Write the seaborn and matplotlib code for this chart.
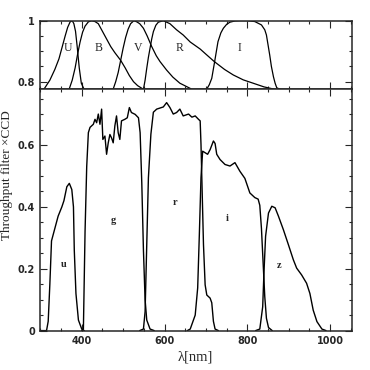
import pandas as pd
import seaborn as sns
import matplotlib.pyplot as plt
from matplotlib.ticker import MultipleLocator

# Johnson-Cousins UBVRI, normalised to peak (top panel)
U_nm = [300, 311, 323, 335, 345, 353, 360, 366, 372, 377, 381, 385, 389, 394, 399, 405, 412]
U_val = [0.76, 0.78, 0.805, 0.84, 0.875, 0.915, 0.95, 0.978, 0.996, 1.0, 0.99, 0.965, 0.915, 0.845, 0.795, 0.777, 0.76]

B_nm = [364, 370, 377, 384, 390, 396, 402, 408, 416, 424, 432, 440, 450, 460, 470, 480, 494, 505, 515, 525, 535, 549, 560]
B_val = [0.76, 0.777, 0.805, 0.845, 0.89, 0.93, 0.962, 0.982, 0.996, 1.0, 0.997, 0.99, 0.965, 0.94, 0.915, 0.895, 0.87, 0.845, 0.82, 0.80, 0.787, 0.775, 0.76]

V_nm = [470, 476, 482, 488, 494, 500, 506, 512, 518, 526, 533, 540, 549, 558, 569, 580, 589, 605, 620, 637, 662, 675]
V_val = [0.76, 0.776, 0.80, 0.83, 0.87, 0.91, 0.945, 0.972, 0.99, 1.0, 0.996, 0.99, 0.975, 0.95, 0.915, 0.885, 0.866, 0.838, 0.815, 0.795, 0.778, 0.76]

R_nm = [543, 549, 553, 557, 561, 565, 569, 573, 579, 585, 597, 613, 629, 645, 662, 686, 700, 720, 745, 766, 790, 814, 840, 863, 880]
R_val = [0.76, 0.775, 0.805, 0.844, 0.88, 0.91, 0.94, 0.964, 0.985, 0.995, 1.0, 0.99, 0.97, 0.953, 0.93, 0.907, 0.89, 0.866, 0.84, 0.822, 0.806, 0.795, 0.783, 0.776, 0.765]

I_nm = [695, 702, 708, 714, 721, 729, 736, 742, 750, 758, 770, 782, 800, 818, 834, 842, 846, 850, 854, 858, 863, 867, 871, 879, 890]
I_val = [0.76, 0.776, 0.79, 0.811, 0.866, 0.931, 0.96, 0.975, 0.988, 0.995, 0.999, 1.0, 1.0, 0.997, 0.986, 0.97, 0.953, 0.92, 0.887, 0.85, 0.816, 0.795, 0.78, 0.775, 0.76]

# SDSS ugriz, filter x CCD throughput (main panel)
u_nm = [300, 315, 319, 323, 327, 331, 335, 343, 352, 357, 364, 370, 376, 380, 382, 386, 392, 400, 406]
u_val = [0.0, 0.0, 0.03, 0.15, 0.29, 0.31, 0.33, 0.37, 0.40, 0.42, 0.465, 0.476, 0.456, 0.40, 0.26, 0.12, 0.034, 0.005, 0.0]

g_nm = [400, 404, 408, 412, 416, 420, 428, 432, 436, 440, 444, 448, 451, 456, 460, 464, 468, 472, 476, 480, 484, 488,
        492, 496, 504, 510, 515, 520, 529, 537, 541, 545, 549, 553, 557, 565, 575]
g_val = [0.0, 0.005, 0.32, 0.53, 0.64, 0.657, 0.667, 0.683, 0.672, 0.70, 0.667, 0.716, 0.618, 0.629, 0.57, 0.607, 0.634,
         0.623, 0.607, 0.662, 0.694, 0.64, 0.618, 0.678, 0.683, 0.688, 0.721, 0.705, 0.699, 0.688, 0.64, 0.478, 0.26,
         0.10, 0.034, 0.005, 0.0]

r_nm = [540, 549, 553, 557, 561, 567, 573, 581, 597, 605, 613, 621, 629, 637, 645, 658, 666, 674, 682, 686, 688, 691,
        694, 698, 702, 710, 714, 718, 722, 730]
r_val = [0.0, 0.005, 0.061, 0.278, 0.494, 0.635, 0.706, 0.716, 0.723, 0.737, 0.721, 0.70, 0.705, 0.716, 0.694, 0.70,
         0.69, 0.694, 0.683, 0.678, 0.602, 0.44, 0.278, 0.148, 0.115, 0.105, 0.09, 0.03, 0.005, 0.0]

i_nm = [655, 662, 674, 680, 684, 688, 692, 698, 704, 710, 718, 722, 726, 734, 746, 758, 770, 782, 794, 806, 818, 826,
        830, 834, 838, 842, 846, 851, 860]
i_val = [0.0, 0.005, 0.05, 0.138, 0.31, 0.495, 0.58, 0.575, 0.57, 0.585, 0.613, 0.605, 0.57, 0.553, 0.537, 0.532,
         0.543, 0.515, 0.492, 0.445, 0.43, 0.425, 0.405, 0.33, 0.22, 0.11, 0.04, 0.01, 0.0]

z_nm = [820, 830, 837, 840, 844, 851, 859, 867, 875, 887, 899, 911, 919, 931, 943, 951, 959, 968, 980, 990]
z_val = [0.0, 0.005, 0.077, 0.186, 0.305, 0.38, 0.402, 0.397, 0.37, 0.326, 0.278, 0.229, 0.202, 0.18, 0.153, 0.12,
         0.066, 0.029, 0.005, 0.0]

top_names = ["U", "B", "V", "R", "I"]
top_pos = [367, 440, 536, 637, 782]
main_names = ["u", "g", "r", "i", "z"]
main_pos = [(357, 0.213), (476, 0.357), (625, 0.413), (752, 0.362), (877, 0.209)]

sns.set_style("ticks")
plt.rcParams['font.family'] = ['Liberation Serif', 'DejaVu Serif']

fig = plt.figure(figsize=(3.7, 3.7), dpi=100)
ax_top = fig.add_axes([0.109, 0.7586, 0.8416, 0.1856])
ax = fig.add_axes([0.109, 0.1065, 0.8416, 0.6521])

for x, y in [(U_nm, U_val), (B_nm, B_val), (V_nm, V_val), (R_nm, R_val), (I_nm, I_val)]:
    sns.lineplot(x=x, y=y, ax=ax_top, color="black", lw=0.9, estimator=None)
for x, y in [(u_nm, u_val), (g_nm, g_val), (r_nm, r_val), (i_nm, i_val), (z_nm, z_val)]:
    sns.lineplot(x=x, y=y, ax=ax, color="black", lw=1.0, estimator=None)

for a in (ax_top, ax):
    a.set_xlim(300, 1052)
    a.xaxis.set_minor_locator(MultipleLocator(50))
    a.yaxis.set_minor_locator(MultipleLocator(0.05))
    a.tick_params(which="both", direction="in", top=True, right=True, width=0.8, pad=4)
    a.tick_params(which="major", length=5)
    a.tick_params(which="minor", length=2.5)
    for s in a.spines.values():
        s.set_linewidth(1.1)
    a.set_xlabel("")
    a.set_ylabel("")

ax_top.set_ylim(0.775, 1.0)
ax_top.set_xticks([400, 600, 800, 1000])
ax_top.set_xticklabels([])
ax_top.set_yticks([0.8, 1.0])
ax_top.set_yticklabels(["0.8", "1"], fontfamily="DejaVu Sans", fontweight="bold", fontsize=7)

ax.set_ylim(0, 0.78)
ax.set_xticks([400, 600, 800, 1000])
ax.set_xticklabels(["400", "600", "800", "1000"], fontfamily="DejaVu Sans", fontweight="bold", fontsize=7)
ax.set_yticks([0, 0.2, 0.4, 0.6])
ax.set_yticklabels(["0", "0.2", "0.4", "0.6"], fontfamily="DejaVu Sans", fontweight="bold", fontsize=7)

for name, xpos in zip(top_names, top_pos):
    ax_top.text(xpos, 0.91, name, ha="center", va="center", fontsize=8.5)
for name, (xpos, ypos) in zip(main_names, main_pos):
    ax.text(xpos, ypos, name, ha="center", va="center", fontsize=7.5, fontweight="bold")

fig.text(0.018, 0.527, "Throughput filter ×CCD", rotation=90, ha="center", va="center", fontsize=9.5)
fig.text(0.527, 0.035, "λ[nm]", ha="center", va="center", fontsize=10.5)

fig.savefig("out.png", dpi=100)
